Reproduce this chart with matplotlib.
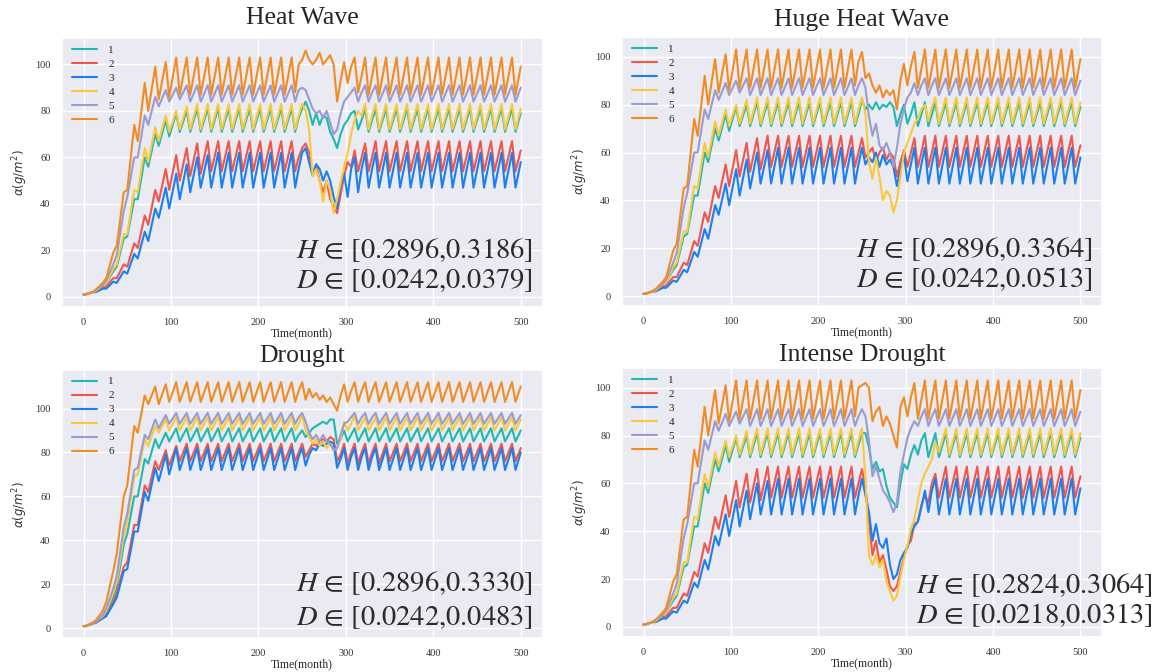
import matplotlib
matplotlib.use("Agg")
import matplotlib.pyplot as plt
import seaborn as sns

# ---------------- text / labels ----------------
SERIES = ["1", "2", "3", "4", "5", "6"]
TITLES = ["Heat Wave", "Huge Heat Wave", "Drought", "Intense Drought"]
H_RANGES = ["[0.2896,0.3186]", "[0.2896,0.3364]", "[0.2896,0.3330]", "[0.2824,0.3064]"]
D_RANGES = ["[0.0242,0.0379]", "[0.0242,0.0513]", "[0.0242,0.0483]", "[0.0218,0.0313]"]
X_TICKS = [0, 100, 200, 300, 400, 500]
Y_TICKS = [0, 20, 40, 60, 80, 100]

# ---------------- time points (months) ----------------
PRE_MONTHS = [0, 2, 10, 14, 22, 26, 34, 38, 46, 50, 58, 62, 70, 74, 82, 86, 94, 98, 106, 110,
              118, 122, 130, 134, 142, 146, 154, 158, 166, 170, 178, 182, 190, 194, 202, 206,
              214, 218, 226, 230, 238, 242]
EVENT_MONTHS = [246, 250, 254, 258, 262, 266, 270, 274, 278, 282, 286, 290, 294, 298, 302, 306,
                310, 314, 318, 322, 326, 330, 334, 338]
POST_MONTHS = [346, 350, 358, 362, 370, 374, 382, 386, 394, 398, 406, 410, 418, 422, 430, 434,
               442, 446, 454, 458, 466, 470, 478, 482, 490, 494, 500]

# ---------------- normal climate (panels 1, 2, 4) before the event ----------------
PRE_NORMAL_1 = [1, 1, 2, 2.5, 5, 6, 11, 13, 25, 26, 42, 42, 60, 56, 70, 65, 76, 69, 79, 71,
                80, 71, 81, 71, 81, 71, 81, 71, 81, 71, 81, 71, 81, 71, 81, 71, 81, 71, 81, 71, 81, 71]
PRE_NORMAL_2 = [1, 1, 2, 2.5, 4, 4.5, 8, 8, 14, 13, 23, 21, 35, 31, 46, 41, 55, 46, 61, 50,
                64, 52, 66, 53, 67, 54, 67, 54, 67, 54, 67, 54, 67, 54, 67, 54, 67, 54, 67, 54, 67, 54]
PRE_NORMAL_3 = [1, 1, 2, 2, 3.5, 3.5, 6.5, 6, 11, 10, 18.5, 16.5, 28, 24, 38, 34, 47, 38, 53, 42,
                57, 45, 60, 47, 61, 47, 62, 47, 62, 47, 62, 47, 62, 47, 62, 47, 62, 47, 62, 47, 62, 47]
PRE_NORMAL_4 = [1, 1, 2, 2.5, 5, 6, 12, 14, 27, 27, 46, 45, 64, 58, 73, 67, 78, 71, 80, 72,
                82, 72, 83, 72, 83, 72, 83, 72, 83, 72, 83, 72, 83, 72, 83, 72, 83, 72, 83, 72, 83, 72]
PRE_NORMAL_5 = [1, 1, 2, 3, 5, 7, 14, 18, 37, 43, 60, 60, 78, 74, 86, 82, 89, 84, 90, 85,
                91, 84, 91, 84, 91, 84, 91, 84, 91, 84, 91, 84, 91, 84, 91, 84, 91, 84, 91, 84, 91, 84]
PRE_NORMAL_6 = [1, 1, 2, 3, 6, 8, 19, 22, 45, 46, 74, 67, 92, 80, 99, 85, 101, 86, 103, 87,
                103, 87, 103, 87, 103, 87, 103, 87, 103, 87, 103, 87, 103, 87, 103, 87, 103, 87, 103, 87, 103, 88]

# ---------------- normal climate (panels 1, 2, 4) after the event ----------------
POST_NORMAL_1 = [81, 71, 81, 71, 81, 71, 81, 71, 81, 71, 81, 71, 81, 71, 81, 71, 81, 71, 81, 71, 81, 71, 81, 71, 81, 71, 79]
POST_NORMAL_2 = [67, 54, 67, 54, 67, 54, 67, 54, 67, 54, 67, 54, 67, 54, 67, 54, 67, 54, 67, 54, 67, 54, 67, 54, 67, 54, 63]
POST_NORMAL_3 = [62, 47, 62, 47, 62, 47, 62, 47, 62, 47, 62, 47, 62, 47, 62, 47, 62, 47, 62, 47, 62, 47, 62, 47, 62, 47, 58]
POST_NORMAL_4 = [83, 72, 83, 72, 83, 72, 83, 72, 83, 72, 83, 72, 83, 72, 83, 72, 83, 72, 83, 72, 83, 72, 83, 72, 83, 72, 81]
POST_NORMAL_5 = [91, 84, 91, 84, 91, 84, 91, 84, 91, 84, 91, 84, 91, 84, 91, 84, 91, 84, 91, 84, 91, 84, 91, 84, 91, 84, 90]
POST_NORMAL_6 = [103, 87, 103, 87, 103, 87, 103, 87, 103, 87, 103, 87, 103, 87, 103, 87, 103, 87, 103, 87, 103, 87, 103, 87, 103, 87, 99]

# ---------------- drought climate (panel 3) ----------------
PRE_DRY_1 = [1, 1, 2, 3, 5, 7, 14, 19, 38, 43, 60, 60, 77, 75, 86, 82, 89, 85, 91, 85,
             91, 85, 91, 85, 91, 85, 91, 85, 91, 85, 91, 85, 91, 85, 91, 85, 91, 85, 91, 85, 91, 85]
PRE_DRY_2 = [1, 1, 2, 2.5, 5, 6, 12, 16, 28, 30, 47, 47, 65, 62, 76, 72, 81, 74, 83, 76,
             84, 76, 84, 76, 84, 76, 84, 76, 84, 76, 84, 76, 84, 76, 84, 76, 84, 76, 84, 76, 84, 76]
PRE_DRY_3 = [1, 1, 2, 2.5, 4.5, 5.5, 11, 14, 26, 27, 44, 44, 62, 58, 73, 67, 79, 70, 82, 72,
             82, 72, 82, 72, 82, 72, 82, 72, 82, 72, 82, 72, 82, 72, 82, 72, 82, 72, 82, 72, 82, 72]
PRE_DRY_4 = [1, 1, 2, 3, 5.5, 8, 16, 21, 42, 48, 69, 70, 86, 83, 92, 89, 95, 90, 96, 90,
             96, 90, 96, 90, 96, 90, 96, 90, 96, 90, 96, 90, 96, 90, 96, 90, 96, 90, 96, 90, 96, 90]
PRE_DRY_5 = [1, 1, 2, 3, 6, 9, 18, 24, 46, 52, 72, 73, 88, 86, 95, 91, 97, 93, 98, 93,
             98, 93, 98, 93, 98, 93, 98, 93, 98, 93, 98, 93, 98, 93, 98, 93, 98, 93, 98, 93, 98, 93]
PRE_DRY_6 = [1, 1, 2.5, 3.5, 8, 12, 26, 34, 60, 65, 92, 89, 106, 102, 110, 102, 111, 103, 112, 103,
             112, 103, 112, 103, 112, 103, 112, 103, 112, 103, 112, 103, 112, 103, 112, 103, 112, 103, 112, 103, 112, 103]

POST_DRY_1 = [91, 85, 91, 85, 91, 85, 91, 85, 91, 85, 91, 85, 91, 85, 91, 85, 91, 85, 91, 85, 91, 85, 91, 85, 91, 85, 90]
POST_DRY_2 = [84, 76, 84, 76, 84, 76, 84, 76, 84, 76, 84, 76, 84, 76, 84, 76, 84, 76, 84, 76, 84, 76, 84, 76, 84, 76, 82]
POST_DRY_3 = [82, 72, 82, 72, 82, 72, 82, 72, 82, 72, 82, 72, 82, 72, 82, 72, 82, 72, 82, 72, 82, 72, 82, 72, 82, 72, 80]
POST_DRY_4 = [96, 90, 96, 90, 96, 90, 96, 90, 96, 90, 96, 90, 96, 90, 96, 90, 96, 90, 96, 90, 96, 90, 96, 90, 96, 90, 95]
POST_DRY_5 = [98, 93, 98, 93, 98, 93, 98, 93, 98, 93, 98, 93, 98, 93, 98, 93, 98, 93, 98, 93, 98, 93, 98, 93, 98, 93, 97]
POST_DRY_6 = [112, 103, 112, 103, 112, 103, 112, 103, 112, 103, 112, 103, 112, 103, 112, 103, 112, 103, 112, 103, 112, 103, 112, 103, 112, 103, 110]

# ---------------- event windows (months 246..338) ----------------
HEAT_1 = [77, 81, 84, 80, 74, 79, 74, 78, 77, 71, 68, 64, 70, 74, 76, 79, 80, 72, 76, 81, 71, 76, 81, 71]
HEAT_2 = [60, 64, 66, 62, 53, 57, 50, 45, 50, 42, 39, 36, 44, 52, 58, 56, 63, 54, 60, 66, 54, 60, 67, 54]
HEAT_3 = [55, 62, 64, 58, 52, 57, 55, 50, 54, 50, 43, 38, 48, 53, 43, 55, 60, 45, 55, 62, 47, 55, 62, 47]
HEAT_4 = [78, 83, 80, 72, 52, 55, 50, 41, 50, 46, 36, 42, 49, 56, 62, 70, 76, 80, 78, 83, 72, 78, 83, 72]
HEAT_5 = [89, 90, 89, 85, 81, 79, 80, 77, 80, 75, 70, 72, 79, 84, 86, 88, 90, 84, 88, 91, 84, 88, 91, 84]
HEAT_6 = [100, 102, 106, 102, 100, 102, 105, 100, 102, 104, 100, 84, 93, 101, 92, 99, 103, 88, 95, 103, 87, 95, 103, 87]

HUGE_1 = [76, 82, 78, 80, 78, 81, 78, 80, 79, 81, 79, 71, 76, 80, 72, 76, 81, 71, 76, 81, 71, 76, 81, 71]
HUGE_2 = [60, 66, 58, 60, 62, 56, 60, 62, 57, 60, 58, 50, 56, 61, 54, 60, 66, 54, 60, 67, 54, 60, 67, 54]
HUGE_3 = [55, 62, 55, 58, 56, 60, 54, 59, 55, 57, 54, 46, 53, 59, 48, 55, 62, 47, 55, 62, 47, 55, 62, 47]
HUGE_4 = [78, 83, 76, 56, 49, 58, 50, 40, 44, 42, 35, 40, 50, 60, 64, 68, 72, 74, 78, 80, 73, 79, 83, 72]
HUGE_5 = [88, 91, 87, 75, 67, 72, 63, 61, 64, 60, 54, 62, 72, 78, 83, 85, 89, 84, 88, 91, 84, 88, 91, 84]
HUGE_6 = [98, 102, 91, 93, 88, 85, 88, 83, 86, 84, 86, 78, 90, 97, 88, 96, 102, 87, 95, 103, 87, 95, 103, 87]

DROUGHT_1 = [88, 90, 87, 89, 91, 92, 93, 94, 93, 95, 95, 84, 86, 90, 85, 88, 91, 85, 88, 91, 85, 88, 91, 85]
DROUGHT_2 = [80, 84, 78, 81, 84, 83, 85, 86, 85, 87, 86, 76, 79, 84, 75, 80, 84, 75, 80, 84, 75, 80, 84, 75]
DROUGHT_3 = [78, 82, 74, 79, 82, 81, 84, 83, 84, 85, 84, 73, 77, 82, 72, 78, 82, 72, 78, 82, 72, 78, 82, 72]
DROUGHT_4 = [93, 97, 90, 87, 84, 86, 83, 85, 82, 84, 81, 82, 86, 94, 90, 93, 97, 90, 93, 96, 90, 93, 96, 90]
DROUGHT_5 = [96, 98, 94, 89, 86, 88, 85, 88, 85, 84, 81, 82, 88, 93, 94, 96, 98, 93, 96, 98, 93, 96, 98, 93]
DROUGHT_6 = [108, 112, 104, 109, 105, 107, 104, 106, 103, 105, 102, 99, 106, 111, 103, 108, 112, 103, 108, 112, 103, 108, 112, 103]

INTENSE_1 = [76, 81, 81, 75, 66, 69, 65, 66, 59, 54, 52, 50, 60, 68, 66, 72, 76, 72, 78, 81, 71, 76, 81, 71]
INTENSE_2 = [60, 66, 58, 45, 30, 36, 27, 30, 24, 17, 15, 17, 23, 29, 34, 36, 43, 44, 51, 55, 52, 60, 64, 54]
INTENSE_3 = [55, 62, 55, 48, 36, 43, 35, 33, 37, 26, 20, 22, 28, 31, 33, 39, 42, 44, 50, 57, 48, 57, 62, 47]
INTENSE_4 = [78, 83, 62, 30, 26, 30, 25, 28, 19, 15, 11, 13, 21, 28, 34, 41, 45, 53, 60, 64, 67, 70, 77, 73]
INTENSE_5 = [88, 91, 88, 78, 63, 67, 62, 57, 55, 52, 48, 52, 65, 72, 79, 83, 86, 84, 88, 91, 84, 88, 91, 84]
INTENSE_6 = [100, 101, 102, 100, 86, 90, 92, 84, 88, 85, 80, 75, 92, 96, 88, 96, 102, 87, 95, 103, 87, 95, 103, 87]

# ---------------- assemble ----------------
PRE_NORMAL = [PRE_NORMAL_1, PRE_NORMAL_2, PRE_NORMAL_3, PRE_NORMAL_4, PRE_NORMAL_5, PRE_NORMAL_6]
POST_NORMAL = [POST_NORMAL_1, POST_NORMAL_2, POST_NORMAL_3, POST_NORMAL_4, POST_NORMAL_5, POST_NORMAL_6]
PRE_DRY = [PRE_DRY_1, PRE_DRY_2, PRE_DRY_3, PRE_DRY_4, PRE_DRY_5, PRE_DRY_6]
POST_DRY = [POST_DRY_1, POST_DRY_2, POST_DRY_3, POST_DRY_4, POST_DRY_5, POST_DRY_6]
HEAT = [HEAT_1, HEAT_2, HEAT_3, HEAT_4, HEAT_5, HEAT_6]
HUGE = [HUGE_1, HUGE_2, HUGE_3, HUGE_4, HUGE_5, HUGE_6]
DROUGHT = [DROUGHT_1, DROUGHT_2, DROUGHT_3, DROUGHT_4, DROUGHT_5, DROUGHT_6]
INTENSE = [INTENSE_1, INTENSE_2, INTENSE_3, INTENSE_4, INTENSE_5, INTENSE_6]

PANELS = [
    (PRE_NORMAL, HEAT, POST_NORMAL),
    (PRE_NORMAL, HUGE, POST_NORMAL),
    (PRE_DRY, DROUGHT, POST_DRY),
    (PRE_NORMAL, INTENSE, POST_NORMAL),
]

# ---------------- styling ----------------
COLORS = ["#1fb8b2", "#f2554a", "#1a80f0", "#f9c93c", "#9a9bd0", "#f28c22"]
AX_RECTS = [
    [0.0533, 0.5436, 0.4157, 0.3994],
    [0.5373, 0.5446, 0.4154, 0.3999],
    [0.0533, 0.0502, 0.4157, 0.3993],
    [0.5373, 0.0525, 0.4154, 0.3994],
]
TITLE_PADS = [10, 8, 6, 5]
TEXT_POS = [
    (0.980, 0.181, 0.070),
    (0.981, 0.183, 0.072),
    (0.979, 0.174, 0.050),
    (1.105, 0.162, 0.050),
]

sns.set_theme(style="darkgrid")
plt.rcParams["font.family"] = ["Liberation Serif", "DejaVu Serif"]
plt.rcParams["mathtext.fontset"] = "dejavusans"

fig = plt.figure(figsize=(11.57, 6.72), dpi=100)
months = PRE_MONTHS + EVENT_MONTHS + POST_MONTHS

for i in range(4):
    ax = fig.add_axes(AX_RECTS[i])
    pre, ev, post = PANELS[i]
    for s in range(6):
        ax.plot(months, pre[s] + ev[s] + post[s], color=COLORS[s], lw=1.5, label=SERIES[s])
    ax.set_xticks(X_TICKS)
    ax.set_yticks(Y_TICKS)
    ax.tick_params(axis="both", labelsize=7.5, pad=8, colors="#333333", length=0)
    ax.set_title(TITLES[i], fontsize=18.5, pad=TITLE_PADS[i], color="#262626")
    ax.set_xlabel("Time(month)", fontsize=8.5, labelpad=0, color="#262626")
    yl = ax.set_ylabel(r"$\alpha(g/m^2)$", fontsize=8.5, labelpad=4, color="#333333")
    yl.set_math_fontfamily("dejavusans")
    ax.legend(loc="upper left", bbox_to_anchor=(0.0208, 0.975), borderaxespad=0,
              borderpad=0, frameon=False, fontsize=8, handlelength=2.3,
              handletextpad=1.0, labelspacing=0.38)
    xr, y1, y2 = TEXT_POS[i]
    t1 = ax.text(xr, y1, "$H$ \u2208 " + H_RANGES[i], transform=ax.transAxes, ha="right",
                 va="baseline", fontsize=20.5, family="STIXGeneral", color="#2b2b2b")
    t2 = ax.text(xr, y2, "$D$ \u2208 " + D_RANGES[i], transform=ax.transAxes, ha="right",
                 va="baseline", fontsize=20.5, family="STIXGeneral", color="#2b2b2b")
    t1.set_math_fontfamily("stix")
    t2.set_math_fontfamily("stix")

fig.savefig("out.png", dpi=100)
